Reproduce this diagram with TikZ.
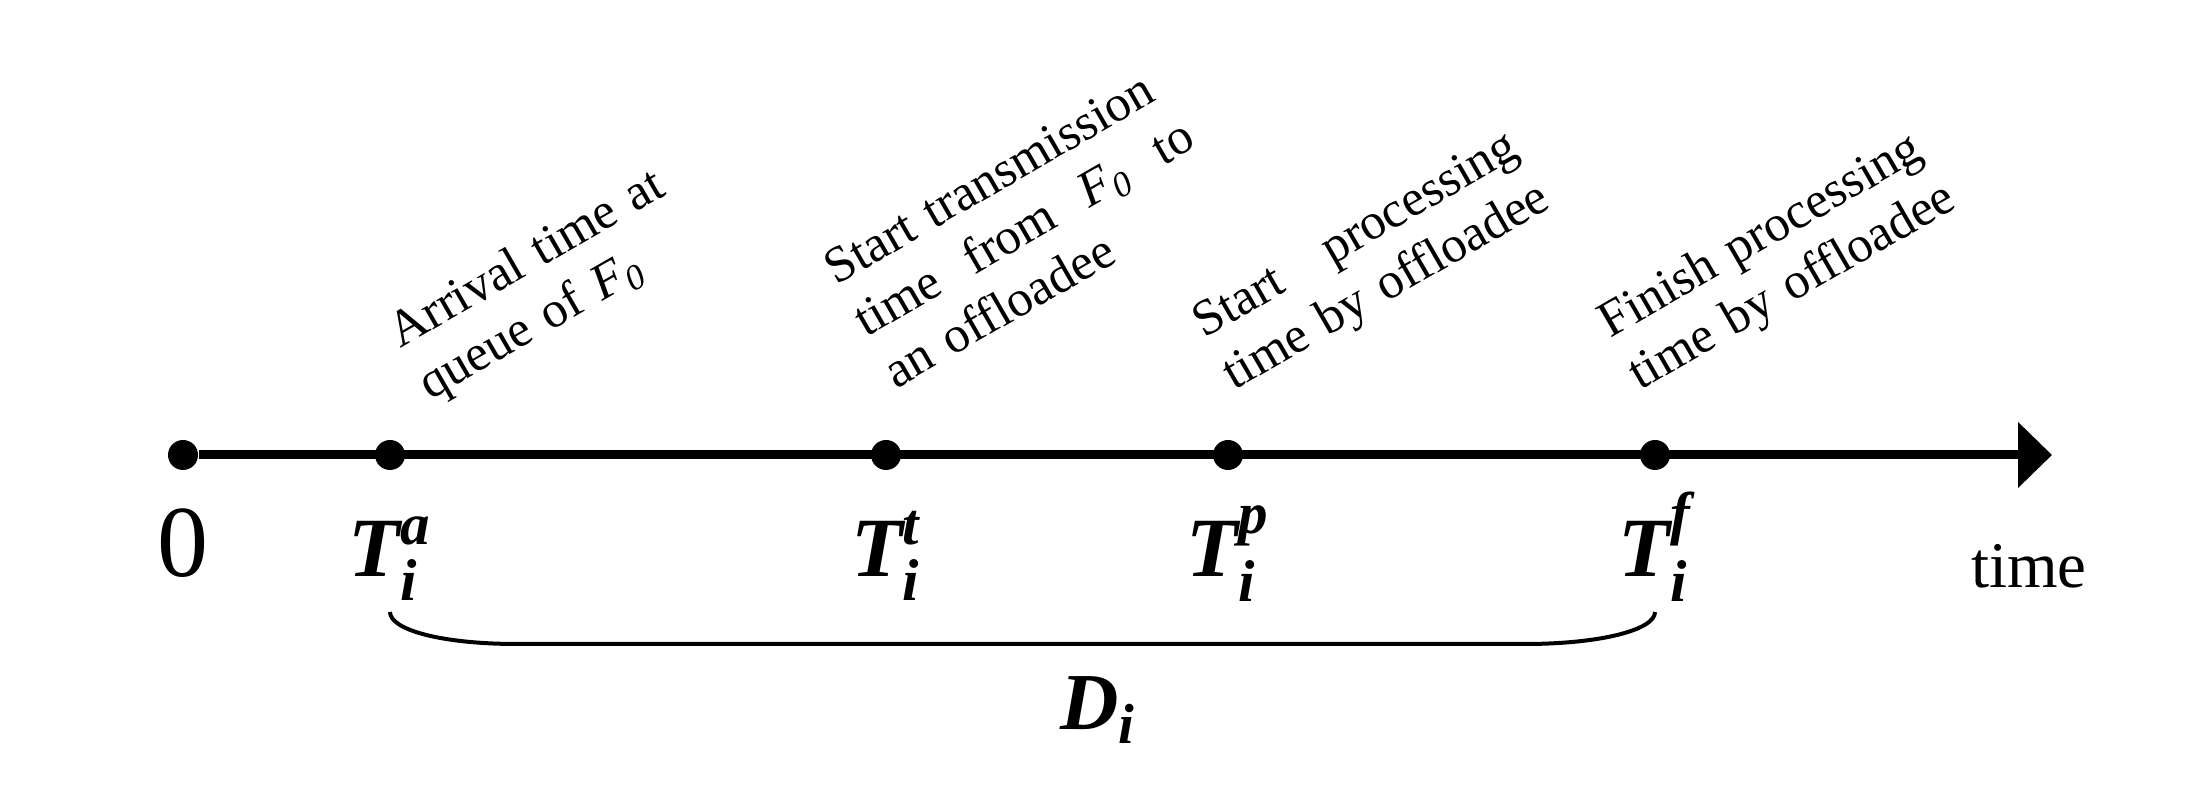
\documentclass[tikz,border=0pt]{standalone}
\usepackage{fontspec}
\setmainfont{Liberation Serif}
\usepackage{amsmath}
\usepackage{tikz}
\usetikzlibrary{arrows.meta, positioning}

\newcommand{\fzero}{\textit{F}\textsubscript{\textit{0}}}
\newcommand{\tmark}[2]{$\text{\bfseries\itshape #1}_{\text{\bfseries\itshape i}}^{\text{\bfseries\itshape #2}}$}

\begin{document}
\begin{tikzpicture}[
			dot/.style={
				circle,
				fill=black,
				inner sep=0pt,
				minimum size=0.30cm
			},
			axis/.style={
				-{Triangle[length=0.34cm, width=0.64cm]},
				line width=0.09cm
			},
			brace/.style={
				line width=0.04cm
			},
			note/.style={
				rotate=30,
				inner sep=0pt,
				align=left,
				anchor=base west,
				font=\fontsize{14.5}{17}\selectfont
			},
			tlabel/.style={
				inner sep=0pt,
				text height=0.6cm,
				text depth=0.2cm,
				font=\fontsize{24}{28}\selectfont
			}
			]
			
			\useasboundingbox (-1.83,-3.37) rectangle (20.09,4.55);
			
			% time instants on the axis
			\node[dot] (o) at (0,0) {};
			\node[dot] (ta) at (2.07,0) {};
			\node[dot] (tt) at (7.03,0) {};
			\node[dot] (tp) at (10.45,0) {};
			\node[dot] (tf) at (14.72,0) {};
			\coordinate (tip) at (18.69,0);
			\draw[axis] (o) -- (tip);
			
			% labels under the axis
			\node[tlabel, below=0.45cm of o, font=\fontsize{29}{32}\selectfont] (zero) {0};
			\node[tlabel, below=0.45cm of ta] (talab) {\tmark{T}{a}};
			\node[tlabel, below=0.45cm of tt] (ttlab) {\tmark{T}{t}};
			\node[tlabel, below=0.45cm of tp] (tplab) {\tmark{T}{p}};
			\node[tlabel, below=0.45cm of tf] (tflab) {\tmark{T}{f}};
			\node[tlabel, below=0.72cm of tip, xshift=-0.23cm, font=\fontsize{18.5}{22}\selectfont] (timelab) {time};
			
			% slanted notes above the axis
			\node[note, text width=3.1cm] (arrnote) at ([shift={(0.1,1.06)}]ta) {\mbox{Arrival time at}\\\mbox{queue of \fzero}};
			\node[note, text width=3.7cm] (trnote) at ([shift={(-0.5,1.69)}]tt) {\makebox[\linewidth][s]{Start transmission}\\\makebox[\linewidth][s]{time\ \ from\ \ \fzero\ \ to}\\\mbox{an offloadee}};
			\node[note, text width=3.65cm] (prnote) at ([shift={(-0.24,1.16)}]tp) {\makebox[\linewidth][s]{Start\quad processing}\\\mbox{time by offloadee}};
			\node[note, text width=3.65cm] (fnnote) at ([shift={(-0.45,1.16)}]tf) {\makebox[\linewidth][s]{Finish processing}\\\mbox{time by offloadee}};
			
			% brace for the deadline
			\coordinate (bl) at ([yshift=-1.57cm]ta);
			\coordinate (br) at ([yshift=-1.57cm]tf);
			\draw[brace] (bl) .. controls +(0,-0.18) and +(-0.75,0) .. ([shift={(1.27,-0.32)}]bl)
				-- ([shift={(-1.3,-0.32)}]br) .. controls +(0.75,0) and +(0,-0.18) .. (br);
			\node[anchor=base, inner sep=0pt, font=\fontsize{23}{27}\selectfont] (di) at (9.15,-2.75) {$\text{\bfseries\itshape D}_{\text{\bfseries\itshape i}}$};
			
		\end{tikzpicture}
\end{document}
